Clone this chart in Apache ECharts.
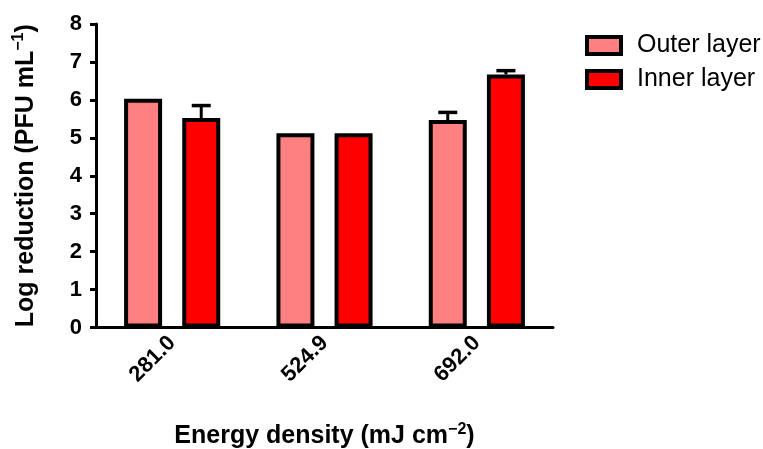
<!DOCTYPE html>
<html>
<head>
<meta charset="utf-8">
<script src="https://cdn.jsdelivr.net/npm/echarts@6/dist/echarts.min.js"></script>
<style>
html,body{margin:0;padding:0;background:#fff;}
#chart{width:763px;height:449px;}
</style>
</head>
<body>
<div id="chart"></div>
<script>
var categories = ['281.0', '524.9', '692.0'];
var seriesNames = ['Outer layer', 'Inner layer'];
var outerValues = [6.03, 5.12, 5.47];
var innerValues = [5.52, 5.12, 6.67];
var outerErrors = [0, 0, 0.2];
var innerErrors = [0.33, 0, 0.1];
var yTicks = [0, 1, 2, 3, 4, 5, 6, 7, 8];

var BAR_W = 38, BAR_GAP = 0.53, BORDER = 4;
var FONT = '"Liberation Sans", Arial, sans-serif';

function errSeries(values, errs, side) {
  var data = values.map(function (v, i) { return [i, v, errs[i]]; });
  return {
    type: 'custom',
    z: 1,
    silent: true,
    data: data,
    renderItem: function (params, api) {
      var i = api.value(0), v = api.value(1), e = api.value(2);
      if (!e) return null;
      var off = side * BAR_W * (1 + BAR_GAP) / 2;
      var p0 = api.coord([i, v]);
      var p1 = api.coord([i, v + e]);
      var x = p0[0] + off;
      var half = 9.5;
      return {
        type: 'group',
        children: [
          { type: 'line', shape: { x1: x, y1: p0[1], x2: x, y2: p1[1] }, style: { stroke: '#000', lineWidth: 3 } },
          { type: 'line', shape: { x1: x - half, y1: p1[1], x2: x + half, y2: p1[1] }, style: { stroke: '#000', lineWidth: 3.5 } }
        ]
      };
    }
  };
}

var chart = echarts.init(document.getElementById('chart'));
chart.setOption({
  animation: false,
  backgroundColor: '#fff',
  grid: { left: 96, right: 210, top: 24, bottom: 121.5, containLabel: false, outerBoundsMode: 'none' },
  legend: {
    orient: 'vertical',
    left: 580,
    top: 28,
    itemWidth: 34,
    itemHeight: 17,
    itemGap: 9,
    icon: 'rect',
    itemStyle: { borderColor: '#000', borderWidth: 4 },
    textStyle: { fontFamily: FONT, fontSize: 25, color: '#000', padding: [0, 0, 0, 11] },
    data: seriesNames
  },
  xAxis: {
    type: 'category',
    data: categories,
    axisLine: { lineStyle: { color: '#000', width: 3 } },
    axisTick: { alignWithLabel: true, length: 6, lineStyle: { color: '#000', width: 3 } },
    axisLabel: { rotate: 45, fontFamily: FONT, fontWeight: 'bold', fontSize: 22, color: '#000', margin: 12 },
    name: '{b|Energy density (mJ cm}{sup|\u22122}{b|)}',
    nameLocation: 'middle',
    nameGap: 94,
    nameTextStyle: {
      rich: {
        b: { fontFamily: FONT, fontWeight: 'bold', fontSize: 25, color: '#000' },
        sup: { fontFamily: FONT, fontWeight: 'bold', fontSize: 16, color: '#000', padding: [0, 0, 14, 0] }
      }
    }
  },
  yAxis: {
    type: 'value',
    min: yTicks[0],
    max: yTicks[yTicks.length - 1],
    interval: 1,
    splitLine: { show: false },
    axisLine: { show: true, lineStyle: { color: '#000', width: 3 } },
    axisTick: { show: true, length: 6, lineStyle: { color: '#000', width: 3 } },
    axisLabel: { fontFamily: FONT, fontWeight: 'bold', fontSize: 22, color: '#000', margin: 14 },
    name: '{b|Log reduction (PFU mL}{sup|\u22121}{b|)}',
    nameLocation: 'middle',
    nameRotate: 90,
    nameGap: 55,
    nameTextStyle: {
      rich: {
        b: { fontFamily: FONT, fontWeight: 'bold', fontSize: 25, color: '#000' },
        sup: { fontFamily: FONT, fontWeight: 'bold', fontSize: 16, color: '#000', padding: [0, 0, 14, 0] }
      }
    }
  },
  series: [
    {
      name: seriesNames[0],
      type: 'bar',
      data: outerValues,
      barWidth: BAR_W,
      barGap: (BAR_GAP * 100) + '%',
      z: 2,
      itemStyle: { color: '#FF8080', borderColor: '#000', borderWidth: BORDER }
    },
    {
      name: seriesNames[1],
      type: 'bar',
      data: innerValues,
      barWidth: BAR_W,
      barGap: (BAR_GAP * 100) + '%',
      z: 2,
      itemStyle: { color: '#FF0000', borderColor: '#000', borderWidth: BORDER }
    },
    errSeries(outerValues, outerErrors, -1),
    errSeries(innerValues, innerErrors, 1)
  ]
});
</script>
</body>
</html>
